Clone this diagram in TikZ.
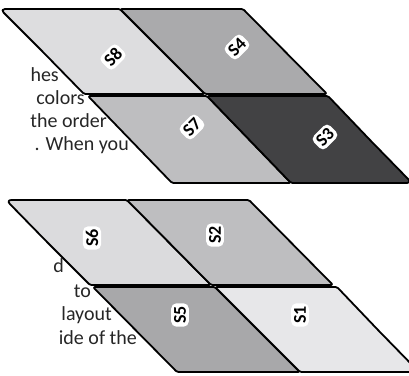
\documentclass[tikz,border=0pt]{standalone}
\usepackage{fontspec}
\setmainfont{Carlito}
\definecolor{cS8}{RGB}{221,221,223}
\definecolor{cS4}{RGB}{170,170,172}
\definecolor{cS7}{RGB}{190,190,192}
\definecolor{cS3}{RGB}{66,66,68}
\definecolor{cS6}{RGB}{219,219,221}
\definecolor{cS2}{RGB}{190,190,192}
\definecolor{cS5}{RGB}{168,168,170}
\definecolor{cS1}{RGB}{231,231,233}
\tikzset{
  cell/.style={draw=black, line width=1.8pt, line join=round},
  lbl/.style={fill=white, rounded corners=5pt, inner sep=2.8pt, font=\bfseries\fontsize{18}{18}\selectfont},
  bodytext/.style={anchor=base east, inner sep=0pt, font=\fontsize{20}{20}\selectfont, text=black!85}
}
\begin{document}
\begin{tikzpicture}[x=1pt,y=-1pt]
\useasboundingbox (0,0) rectangle (409,375);
% background text fragments
\node[bodytext] (t1) at (59,81) {hes};
\node[bodytext] (t2) at (85,104) {colors};
\node[bodytext] (t3) at (107,127) {the order};
\node[bodytext] (t4) at (129,150) {. When you};
\node[bodytext] (t5) at (64,272) {d};
\node[bodytext] (t6) at (91,297) {to};
\node[bodytext] (t7) at (112,320) {layout};
\node[bodytext] (t8) at (137,344) {ide of the};
% top group, row 1
\path[cell, fill=cS8] (60,9) [rounded corners=1.5pt] -- (120,9) -- (205,94) -- (84,94) -- (42,51) [rounded corners=5pt] -- (0,9) -- cycle;
\path[cell, fill=cS4, rounded corners=1.5pt] (120,9) -- (243,9) -- (327,94) -- (205,94) -- cycle;
% top group, row 2
\path[cell, fill=cS7, rounded corners=1.5pt] (88,96) -- (207,96) -- (291,183) -- (172,183) -- cycle;
\path[cell, fill=cS3] (260,96) [rounded corners=1.5pt] -- (328,96) -- (370,140) [rounded corners=5pt] -- (412,183) [rounded corners=1.5pt] -- (350,183) -- (291,183) -- (207,96) -- cycle;
% bottom group, row 1
\path[cell, fill=cS6] (66,200) [rounded corners=1.5pt] -- (127,200) -- (211,285) -- (90,285) -- (48,243) [rounded corners=5.5pt] -- (6,200) -- cycle;
\path[cell, fill=cS2, rounded corners=1.5pt] (127,200) -- (249,200) -- (333,285) -- (211,285) -- cycle;
% bottom group, row 2
\path[cell, fill=cS5, rounded corners=1.5pt] (93,287) -- (215,287) -- (300,372) -- (177,372) -- cycle;
\path[cell, fill=cS1] (270,287) [rounded corners=1.5pt] -- (337,287) -- (378,330) [rounded corners=5.5pt] -- (419,372) [rounded corners=1.5pt] -- (360,372) -- (300,372) -- (215,287) -- cycle;
% labels
\node[lbl, rotate=45] (l8) at (113,57) {S8};
\node[lbl, rotate=45] (l4) at (237,47) {S4};
\node[lbl, rotate=45] (l7) at (192,127) {S7};
\node[lbl, rotate=45] (l3) at (325,137) {S3};
\node[lbl, rotate=90] (l6) at (92,238) {S6};
\node[lbl, rotate=90] (l2) at (215,235) {S2};
\node[lbl, rotate=90] (l5) at (180,315) {S5};
\node[lbl, rotate=90] (l1) at (300,315) {S1};
\end{tikzpicture}
\end{document}
